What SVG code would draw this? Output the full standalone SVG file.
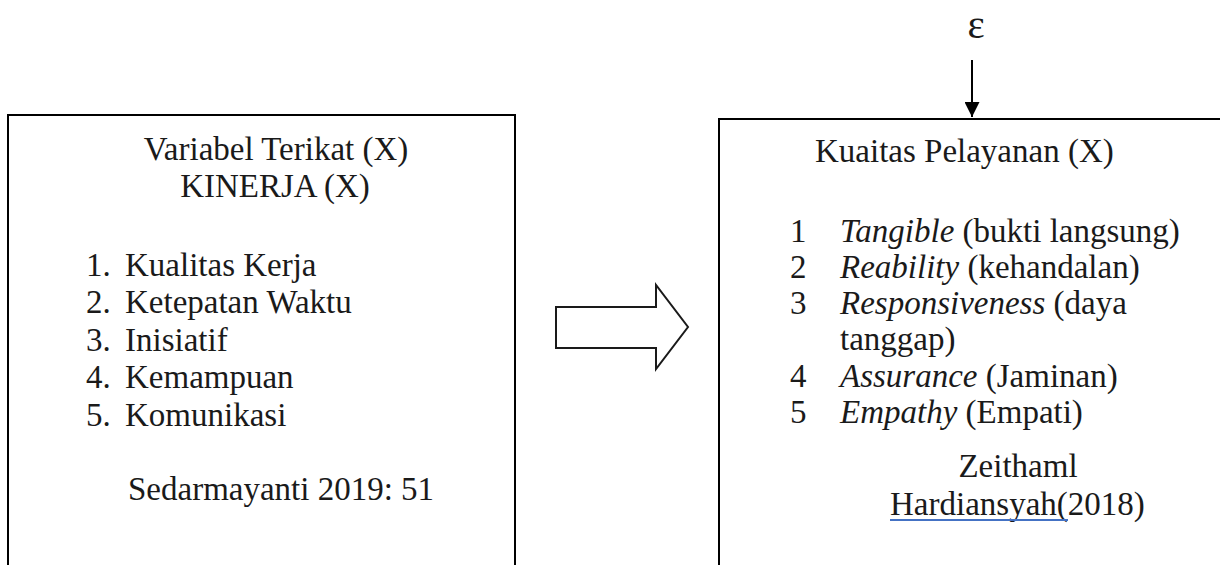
<svg xmlns="http://www.w3.org/2000/svg" width="1220" height="565" viewBox="0 0 1220 565">
<style>
  .box { fill: #ffffff; stroke: #000000; stroke-width: 2; }
  .t { font-family: "Liberation Serif", "Times New Roman", serif; font-size: 33px; fill: #1a1a1a; }
  .i { font-style: italic; }
  .mid { text-anchor: middle; }
  .conn { stroke: #000000; stroke-width: 2; fill: none; }
  .hollow { fill: #ffffff; stroke: #1a1a1a; stroke-width: 2; stroke-linejoin: miter; }
</style>
<defs>
  <marker id="ah" viewBox="0 0 10 10" refX="10" refY="5" markerWidth="16" markerHeight="15" markerUnits="userSpaceOnUse" orient="auto">
    <path d="M0,0 L10,5 L0,10 Z" fill="#000"/>
  </marker>
</defs>
<rect width="1220" height="565" fill="#ffffff"/>

<g id="node-kinerja">
  <rect class="box" x="8" y="115" width="507" height="470"/>
  <text class="t mid" x="276" y="160">Variabel Terikat (X)</text>
  <text class="t mid" x="275" y="197">KINERJA (X)</text>
  <text class="t" x="86" y="276">1.</text><text class="t" x="125" y="276">Kualitas Kerja</text>
  <text class="t" x="86" y="313">2.</text><text class="t" x="125" y="313">Ketepatan Waktu</text>
  <text class="t" x="86" y="351">3.</text><text class="t" x="125" y="351">Inisiatif</text>
  <text class="t" x="86" y="388">4.</text><text class="t" x="125" y="388">Kemampuan</text>
  <text class="t" x="86" y="426">5.</text><text class="t" x="125" y="426">Komunikasi</text>
  <text class="t" x="128" y="500">Sedarmayanti 2019: 51</text>
</g>

<g id="node-epsilon">
  <text x="976" y="38" text-anchor="middle" style="font-family:'Liberation Serif','Times New Roman',serif;font-size:41px;fill:#1a1a1a">ε</text>
</g>

<g id="node-pelayanan">
  <rect class="box" x="719" y="119" width="520" height="470"/>
  <text class="t" x="815" y="162">Kuaitas Pelayanan (X)</text>
  <text class="t" x="790" y="242">1</text><text class="t" x="840" y="242"><tspan class="i">Tangible</tspan> (bukti langsung)</text>
  <text class="t" x="790" y="278">2</text><text class="t" x="840" y="278"><tspan class="i">Reability</tspan> (kehandalan)</text>
  <text class="t" x="790" y="314">3</text><text class="t" x="840" y="314"><tspan class="i">Responsiveness</tspan> (daya</text>
  <text class="t" x="840" y="350">tanggap)</text>
  <text class="t" x="790" y="387">4</text><text class="t" x="840" y="387"><tspan class="i">Assurance</tspan> (Jaminan)</text>
  <text class="t" x="790" y="423">5</text><text class="t" x="840" y="423"><tspan class="i">Empathy</tspan> (Empati)</text>
  <text class="t mid" x="1018" y="477">Zeithaml</text>
  <text class="t" x="890" y="515">Hardiansyah(2018)</text>
  <line x1="890" y1="520" x2="1068" y2="520" stroke="#4472c4" stroke-width="2"/>
</g>

<g id="connectors">
  <line class="conn" x1="972" y1="60" x2="972" y2="117" marker-end="url(#ah)"/>
  <polygon class="hollow" points="556,307 656,307 656,285 688,327 656,369 656,348 556,348"/>
</g>
</svg>
